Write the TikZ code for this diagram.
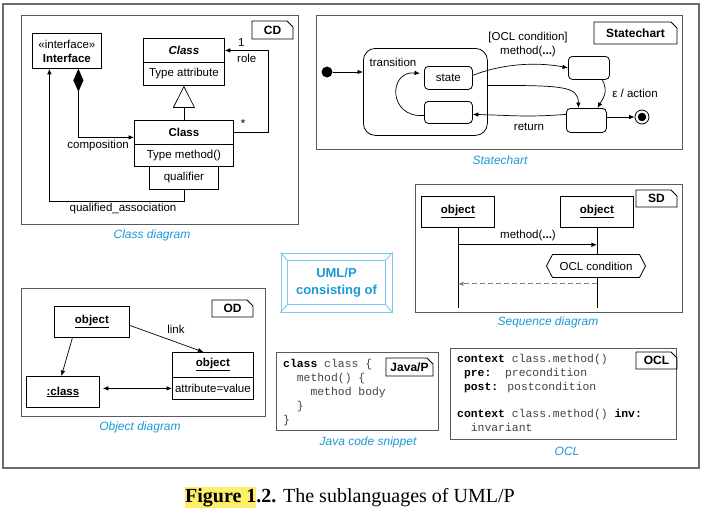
\documentclass[tikz,border=0pt]{standalone}
\usepackage{fontspec}
\newfontfamily\arial{Liberation Sans}
\newfontfamily\mono{Liberation Mono}
\newfontfamily\capserif{Liberation Serif}
\usetikzlibrary{arrows.meta,shapes.symbols,calc}
\definecolor{capblue}{HTML}{1A9AD6}
\definecolor{frm}{HTML}{5A5A5A}
\definecolor{bev}{HTML}{74CBEA}
\definecolor{hl}{HTML}{FFF06A}
\definecolor{codegray}{HTML}{444444}
\tikzset{
  lbl/.style={font=\arial\fontsize{11.5}{14}\selectfont, inner sep=0, text=black},
  umlbox/.style={lbl, draw, anchor=north west, line width=0.8},
  sbox/.style={umlbox, rounded corners=4},
  frmbox/.style={draw=frm, line width=1},
  conn/.style={line width=0.7},
  arr/.style={conn, -{Latex[length=5.5pt,width=4.5pt]}},
  capt/.style={font=\arial\itshape\fontsize{12}{14}\selectfont, text=capblue, inner sep=0},
  tagtxt/.style={font=\arial\bfseries\fontsize{12}{14}\selectfont, inner sep=0},
  tagline/.style={draw=black, line width=0.8},
  codetxt/.style={font=\mono\fontsize{11.4}{14}\selectfont, text=codegray, align=left, anchor=north west, inner sep=0},
}
\newcommand\notetag[6]{%
  \draw[tagline] (#2,#3) -- ({#4-6},#3) -- (#4,{#3+6}) -- (#4,#5) -- (#2,#5) -- cycle;
  \node[tagtxt] (#1) at ({(#2+#4)/2},{(#3+#5)/2}) {#6};}
\newcommand\kw[1]{\textcolor{black}{\textbf{#1}}}
\begin{document}
\begin{tikzpicture}[x=1pt,y=-1pt]
\useasboundingbox (0,0) rectangle (702,522);
\fill[white] (0,0) rectangle (702,522);
\draw[draw=frm!90, line width=1.3] (3,4) rectangle (699,468);

% ---------- Class diagram ----------
\draw[frmbox] (21,15) rectangle (298,224);
\notetag{cdtag}{252}{21}{293}{39}{CD}
\node[umlbox, minimum width=69, minimum height=35, align=center] (intf) at (32,33) {«interface»\\\textbf{Interface}};
\node[umlbox, minimum width=81, minimum height=24] (absT) at (143,38) {\textbf{\textit{Class}}};
\node[umlbox, minimum width=81, minimum height=23] (absB) at (143,62) {Type attribute};
\node[umlbox, minimum width=99, minimum height=24] (clsT) at (134,120) {\textbf{Class}};
\node[umlbox, minimum width=99, minimum height=22] (clsB) at (134,144) {Type method()};
\node[umlbox, minimum width=69, minimum height=23] (qual) at (149,166) {qualifier};
\draw[conn, -{Triangle[open,length=22pt,width=22pt]}] (clsT.north) -- (clsT.north |- absB.south);
\draw[arr] (clsT.east) -- ++(35,0) |- (absT.east);
\node[lbl, anchor=west] (one) at (238,43) {1};
\node[lbl, anchor=west] (role) at (237,58) {role};
\node[lbl] (star) at (243,124) {*};
\draw[conn, {Diamond[length=23pt,width=10pt]}-{Latex[length=5.5pt,width=4.5pt]}] ([xshift=11.5pt]intf.south) |- ($(clsT.west)+(0,5)$);
\node[lbl, anchor=east] (compl) at (129,146) {composition};
\draw[arr] (qual.south) -- ++(0,12) -| ([xshift=-17.5pt]intf.south);
\node[lbl] (qal) at (123,209) {qualified\_association};
\node[capt] (cdcap) at (152,235) {Class diagram};

% ---------- Statechart ----------
\draw[frmbox] (316,15) rectangle (682,149);
\notetag{sctag}{594}{22}{677}{44}{Statechart}
\node[circle, fill, minimum size=11, inner sep=0] (init) at (327,72) {};
\node[draw, line width=0.8, rounded corners=12, anchor=north west, minimum width=124, minimum height=87, inner sep=0] (cmp) at (363,48) {};
\node[sbox, minimum width=48, minimum height=23] (st) at (424,66) {state};
\node[sbox, minimum width=48, minimum height=22] (low) at (424,101) {};
\node[sbox, minimum width=41, minimum height=23] (tr) at (568,56) {};
\node[sbox, minimum width=40, minimum height=24] (br) at (566,108) {};
\node[circle, draw, line width=0.8, minimum size=14, inner sep=0] (fin) at (642,117) {};
\node[circle, fill, minimum size=8.5, inner sep=0] (fini) at (fin) {};
\draw[arr] (init.east) -- (init -| cmp.west);
\node[lbl] (trl) at (393,62) {transition};
\draw[arr] ($(low.west)+(0,3)$) .. controls +(-36,3) and +(-32,-3) .. ($(st.west)+(-4,-4.5)$);
\draw[arr] ($(st.east)+(0,-2.5)$) .. controls +(30,-12) and +(-30,-6) .. (tr.west);
\node[lbl] (ocl1) at (528,38) {[OCL condition]};
\node[lbl] (mth1) at (528,52) {method(\textbf{...})};
\draw[arr] ($(cmp.east)+(0,-6.5)$) .. controls +(75,0) and +(0,-22) .. ([xshift=-8pt]br.north);
\draw[arr] ([xshift=13.5pt]tr.south) .. controls +(6,12) and +(6,-10) .. ([xshift=11pt]br.north);
\node[lbl] (eps) at (635,93) {ε / action};
\draw[arr] ($(br.west)+(0,-6)$) .. controls +(-40,3) and +(40,1) .. ($(low.east)+(0,2)$);
\node[lbl] (ret) at (529,127) {return};
\draw[arr] (fin -| br.east) -- (fin.west);
\node[capt] (sccap) at (500,160) {Statechart};

% ---------- Sequence diagram ----------
\draw[frmbox] (415,184) rectangle (682,312);
\notetag{sdtag}{636}{190}{677}{207}{SD}
\node[umlbox, minimum width=73, minimum height=31] (o1) at (421,196) {\underline{\textbf{object}}};
\node[umlbox, minimum width=73, minimum height=31] (o2) at (560,196) {\underline{\textbf{object}}};
\draw[conn] (o1.south) -- ($(o1.south)+(0,80)$);
\draw[conn] (o2.south) -- ($(o2.south)+(0,80)$);
\draw[arr] ($(o1.south)+(0,17)$) -- ($(o2.south)+(0,17)$);
\node[lbl] (m2) at (528,236) {method(\textbf{...})};
\node[lbl, draw, fill=white, line width=0.8, signal, signal to=east and west, signal pointer angle=125, minimum width=99, minimum height=23] (hex) at (596,266) {OCL condition};
\draw[arr, draw=gray, dash pattern=on 5pt off 3pt] ($(o2.south)+(0,56)$) -- ($(o1.south)+(0,56)$);
\node[capt] (sdcap) at (548,322) {Sequence diagram};

% ---------- UML/P ----------
\node[draw=bev, line width=1, minimum width=111, minimum height=59, inner sep=0, align=center, font=\arial\bfseries\fontsize{13}{17}\selectfont, text=capblue] (uml) at (336.5,282.5) {UML/P\\consisting of};
\draw[draw=bev, line width=1] ($(uml.north west)+(7,8)$) rectangle ($(uml.south east)+(-7,-8)$);
\draw[draw=bev, line width=0.8] (uml.north west) -- +(7,8) (uml.north east) -- +(-7,8) (uml.south west) -- +(7,-8) (uml.south east) -- +(-7,-8);

% ---------- Object diagram ----------
\draw[frmbox] (21,288) rectangle (265,416);
\notetag{odtag}{212}{300}{253}{317}{OD}
\node[umlbox, minimum width=75, minimum height=31] (ob) at (54,306) {\underline{\textbf{object}}};
\node[umlbox, minimum width=73, minimum height=31] (cl) at (26,376) {\underline{\textbf{:class}}};
\node[umlbox, minimum width=81, minimum height=25] (o2t) at (172,352) {\underline{\textbf{object}}};
\node[umlbox, minimum width=81, minimum height=22] (o2b) at (172,377) {attribute=value};
\draw[arr] ([xshift=-19.5pt]ob.south) -- ([xshift=-1.5pt]cl.north);
\draw[arr] ($(ob.east)+(0,3.5)$) -- ([xshift=-9.5pt]o2t.north);
\node[lbl] (lnk) at (176,329) {link};
\draw[conn, {Latex[length=5.5pt,width=4.5pt]}-{Latex[length=5.5pt,width=4.5pt]}, shorten <=3pt] (o2b.west -| cl.east) -- (o2b.west);
\node[capt] (odcap) at (140,427) {Object diagram};

% ---------- Java ----------
\draw[frmbox] (276,352) rectangle (438,430);
\notetag{jtag}{386}{358}{433}{376}{Java/P}
\node[codetxt] (jcode) at (283,359.5) {\kw{class} class \{\\
\ \ method() \{\\
\ \ \ \ method body\\
\ \ \}\\
\}};
\node[capt] (jcap) at (368,442) {Java code snippet};

% ---------- OCL ----------
\draw[frmbox] (450,348) rectangle (676,439);
\notetag{otag}{636}{352}{677}{369}{OCL}
\node[codetxt] (ocode) at (457,354.5) {\kw{context} class.method()\\
\ \kw{pre:}\ \ precondition\\
\ \kw{post:} postcondition\\[13pt]
\kw{context} class.method() \kw{inv:}\\
\ \ invariant};
\node[capt] (ocap) at (567,451) {OCL};

% ---------- Caption ----------
\node[font=\capserif\fontsize{20}{21}\selectfont, inner sep=0, anchor=base west] (figcap) at (185,502) {\setlength\fboxsep{0pt}\colorbox{hl}{\strut\textbf{Figure 1}}\textbf{.2.} The sublanguages of UML/P};
\end{tikzpicture}
\end{document}
